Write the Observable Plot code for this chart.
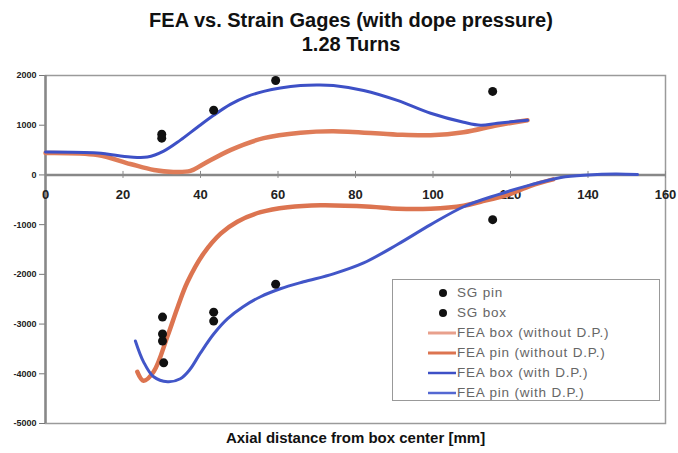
<!DOCTYPE html>
<html>
<head>
<meta charset="utf-8">
<script src="https://cdn.jsdelivr.net/npm/d3@7"></script>
<script src="https://cdn.jsdelivr.net/npm/@observablehq/plot@0.6"></script>
<style>
  body { margin: 0; background: #fff; font-family: "Liberation Sans", Arial, sans-serif; }
  #wrap { position: relative; width: 678px; height: 453px; overflow: hidden; }
  .title { position: absolute; left: 0; width: 702px; text-align: center; font-weight: bold; font-size: 20px; color: #111; }
  #legend { position: absolute; left: 392px; top: 279px; width: 268px; height: 122px; border: 1.5px solid #999; background: #fff; box-sizing: border-box; }
  .li { position: absolute; left: 0; height: 20px; font-size: 13.5px; color: #666; letter-spacing: 0.8px; }
  .li svg { position: absolute; left: 34px; top: 0; }
  .li span { position: absolute; left: 64px; top: 2px; white-space: nowrap; }
</style>
</head>
<body>
<div id="wrap">
  <div class="title" style="top:9px">FEA vs. Strain Gages (with dope pressure)</div>
  <div class="title" style="top:33px">1.28 Turns</div>
  <div id="chart" style="position:absolute; left:0; top:66px;"></div>
  <div id="legend"></div>
</div>
<script>
// Axis ticks
const xTicks = [0, 20, 40, 60, 80, 100, 120, 140, 160];
const yTicks = [2000, 1000, 0, -1000, -2000, -3000, -4000, -5000];

// Strain gage measurements [axial distance mm, strain]
const sgBox = [[30, 820], [30, 740], [43.4, 1300], [59.4, 1900], [115.4, 1680]];
const sgPin = [[30.2, -2860], [30.2, -3200], [30.2, -3340], [30.5, -3780], [43.4, -2760], [43.4, -2940], [59.4, -2200], [115.4, -900]];

// FEA curves [axial distance mm, strain]
const feaBoxWithoutDP = [[0, 440], [13.4, 400], [21.9, 220], [28, 100], [33, 60], [37.4, 80], [40.8, 220], [47.7, 500], [56.3, 740], [65.8, 850], [74.3, 880], [90.8, 810], [99.4, 800], [107.9, 860], [116.6, 1000], [124.4, 1100]];
const feaPinWithoutDP = [[23.7, -3960], [25.3, -4140], [27.9, -3960], [31.5, -3240], [34.1, -2660], [36.6, -2160], [40.8, -1580], [45.2, -1180], [49.5, -940], [55.5, -750], [62.5, -650], [71, -610], [83.9, -640], [90.8, -680], [99.4, -680], [107.9, -620], [112.3, -540], [119.2, -400], [125.2, -220], [131, -90]];
const feaBoxWithDP = [[0, 460], [13.4, 440], [21.9, 360], [26.3, 360], [30.5, 480], [34.8, 700], [39.2, 960], [43.4, 1200], [47.7, 1420], [52.1, 1580], [56.3, 1680], [60.6, 1750], [65.8, 1800], [70, 1810], [74.3, 1800], [82.1, 1700], [90.8, 1500], [99.4, 1240], [107.9, 1060], [112.3, 1000], [116.6, 1040], [124.4, 1100]];
const feaPinWithDP = [[23.2, -3340], [25.3, -3760], [27.9, -4060], [31.5, -4160], [34.8, -4100], [37.2, -3920], [40, -3580], [43.4, -3200], [47, -2890], [51, -2650], [55.5, -2450], [60.6, -2290], [66.6, -2150], [74.3, -1990], [82.1, -1770], [90.8, -1400], [99.4, -1000], [107.9, -640], [116.6, -400], [125.2, -200], [133, -50], [140, 0], [147, 20], [152.8, 10]];

const seriesStyle = [
  {name: "SG pin", type: "dot"},
  {name: "SG box", type: "dot"},
  {name: "FEA box (without D.P.)", type: "line", color: "#e8a08c", width: 3},
  {name: "FEA pin (without D.P.)", type: "line", color: "#dc7450", width: 3},
  {name: "FEA box (with D.P.)", type: "line", color: "#3d50c6", width: 2.5},
  {name: "FEA pin (with D.P.)", type: "line", color: "#5468d2", width: 2.5}
];

const X = d => d[0], Y = d => d[1];
const lineOpts = (color, w) => ({x: X, y: Y, stroke: color, strokeWidth: w, curve: "catmull-rom", strokeLinecap: "round"});

const chart = Plot.plot({
  width: 678,
  height: 387,
  marginTop: 9,
  marginLeft: 45,
  marginRight: 13,
  marginBottom: 30,
  style: {fontFamily: "Liberation Sans, Arial, sans-serif", background: "transparent"},
  x: {domain: [0, 160], axis: null},
  y: {domain: [-5000, 2000], axis: null},
  marks: [
    Plot.frame({stroke: "#9a9a9a", strokeWidth: 1.5}),
    Plot.axisY({ticks: yTicks, tickFormat: d => String(d), tickSize: 6, fontSize: 9, fontWeight: "bold", stroke: "#777", fill: "#222"}),
    Plot.ruleX([0], {stroke: "#888", strokeWidth: 2.5}),
    Plot.ruleY([0], {stroke: "#888", strokeWidth: 2.5}),
    Plot.ruleX(xTicks, {x: d => d, y1: -70, y2: 70, stroke: "#888"}),
    Plot.text(xTicks, {x: d => d, y: 0, text: d => String(d), dy: 20, fontSize: 13, fontWeight: "bold", fill: "#222"}),
    Plot.line(feaBoxWithoutDP, lineOpts("#df7c58", 4.5)),
    Plot.line(feaPinWithoutDP, lineOpts("#dc7450", 4.5)),
    Plot.line(feaBoxWithDP, lineOpts("#3d50c6", 3)),
    Plot.line(feaPinWithDP, lineOpts("#4256c8", 3)),
    Plot.dot(sgBox, {x: X, y: Y, r: 4.5, fill: "#111"}),
    Plot.dot(sgPin, {x: X, y: Y, r: 4.5, fill: "#111"}),
    Plot.text(["Axial distance from box center [mm]"], {frameAnchor: "bottom", dy: 19, text: d => d, fontSize: 15, fontWeight: "bold", fill: "#111"})
  ]
});
document.getElementById("chart").appendChild(chart);

// Legend
const legend = document.getElementById("legend");
seriesStyle.forEach((s, i) => {
  const row = document.createElement("div");
  row.className = "li";
  row.style.top = (3 + i * 20) + "px";
  row.style.width = "100%";
  const sym = s.type === "dot"
    ? `<svg width="30" height="20"><circle cx="16" cy="10" r="4" fill="#111"/></svg>`
    : `<svg width="30" height="20"><line x1="1" x2="29" y1="10" y2="10" stroke="${s.color}" stroke-width="${s.width}"/></svg>`;
  row.innerHTML = sym + `<span>${s.name}</span>`;
  legend.appendChild(row);
});
</script>
</body>
</html>
